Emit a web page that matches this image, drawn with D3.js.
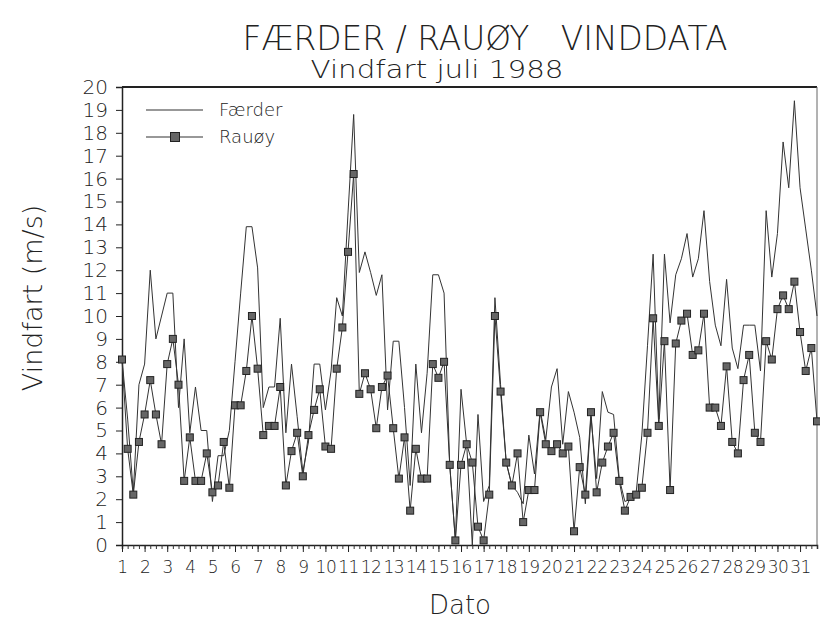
<!DOCTYPE html>
<html>
<head>
<meta charset="utf-8">
<script src="https://cdn.jsdelivr.net/npm/d3@7"></script>
<style>
  body { margin: 0; background: #fff; }
  text { font-family: "DejaVu Sans", sans-serif; font-weight: 200; fill: #222; }
</style>
</head>
<body>
<svg id="chart"></svg>
<script>
// 4 observasjoner per døgn (00, 06, 12, 18), 1.-31. juli 1988
const days = d3.range(1, 32);
const yTicks = d3.range(0, 21);

const faerder = [
  8.1, 5.5, 2.3, 7.0, 7.9, 12.0, 9.0, 10.0, 11.0, 11.0, 6.0, 9.0, 4.9, 6.9, 5.0, 5.0,
  1.9, 3.9, 3.9, 5.0, 8.0, 11.0, 13.9, 13.9, 12.1, 6.0, 6.9, 6.9, 9.9, 4.9, 7.9, 5.6,
  3.2, 4.5, 7.9, 7.9, 5.9, 7.6, 10.8, 10.0, 14.5, 18.8, 11.9, 12.8, 11.9, 10.9, 11.8, 5.9,
  8.9, 8.9, 6.0, 2.6, 7.9, 4.9, 7.5, 11.8, 11.8, 11.0, 3.5, 0.2, 6.8, 4.4, 0.0, 5.7,
  1.9, 2.6, 10.8, 7.0, 3.6, 2.6, 2.3, 1.8, 4.8, 3.1, 5.9, 4.6, 6.9, 7.7, 4.4, 6.7,
  5.8, 4.7, 1.8, 5.6, 2.9, 6.7, 5.8, 5.7, 2.9, 1.9, 2.0, 2.3, 4.8, 8.7, 12.7, 5.5,
  12.7, 9.7, 11.8, 12.5, 13.6, 11.7, 12.5, 14.6, 11.5, 9.6, 8.7, 11.6, 8.6, 7.7, 9.6, 9.6,
  9.6, 7.6, 14.6, 11.7, 13.6, 17.6, 15.6, 19.4, 15.6, 13.8, 12.0, 10.0
];

const rauoy = [
  8.1, 4.2, 2.2, 4.5, 5.7, 7.2, 5.7, 4.4, 7.9, 9.0, 7.0, 2.8, 4.7, 2.8, 2.8, 4.0,
  2.3, 2.6, 4.5, 2.5, 6.1, 6.1, 7.6, 10.0, 7.7, 4.8, 5.2, 5.2, 6.9, 2.6, 4.1, 4.9,
  3.0, 4.8, 5.9, 6.8, 4.3, 4.2, 7.7, 9.5, 12.8, 16.2, 6.6, 7.5, 6.8, 5.1, 6.9, 7.4,
  5.1, 2.9, 4.7, 1.5, 4.2, 2.9, 2.9, 7.9, 7.3, 8.0, 3.5, 0.2, 3.5, 4.4, 3.6, 0.8,
  0.2, 2.2, 10.0, 6.7, 3.6, 2.6, 4.0, 1.0, 2.4, 2.4, 5.8, 4.4, 4.1, 4.4, 4.0, 4.3,
  0.6, 3.4, 2.2, 5.8, 2.3, 3.6, 4.3, 4.9, 2.8, 1.5, 2.1, 2.2, 2.5, 4.9, 9.9, 5.2,
  8.9, 2.4, 8.8, 9.8, 10.1, 8.3, 8.5, 10.1, 6.0, 6.0, 5.2, 7.8, 4.5, 4.0, 7.2, 8.3,
  4.9, 4.5, 8.9, 8.1, 10.3, 10.9, 10.3, 11.5, 9.3, 7.6, 8.6, 5.4
];

const series = [
  { name: "Færder", values: faerder, marker: false },
  { name: "Rauøy", values: rauoy, marker: true }
];

const W = 820, H = 619;
const margin = { top: 87, right: 3, bottom: 74, left: 122 };
const width = W - margin.left - margin.right;
const height = H - margin.top - margin.bottom;

const svg = d3.select("#chart")
  .attr("width", W)
  .attr("height", H);

// tid i døgn: dag + (obs / 4)
const timeOf = function(i) { return 1 + i / 4; };

const x = d3.scaleLinear()
  .domain([1, 31.75])
  .range([margin.left, margin.left + width]);

const y = d3.scaleLinear()
  .domain([0, 20])
  .range([margin.top + height, margin.top]);

// ramme
svg.append("line")
  .attr("x1", x(1)).attr("x2", x(31.75))
  .attr("y1", y(20)).attr("y2", y(20))
  .attr("stroke", "#222").attr("stroke-width", 2);
svg.append("line")
  .attr("x1", x(31.75)).attr("x2", x(31.75))
  .attr("y1", y(20)).attr("y2", y(0))
  .attr("stroke", "#666").attr("stroke-width", 1);

// y-akse
const yAxis = svg.append("g")
  .attr("transform", "translate(" + margin.left + ",0)")
  .call(d3.axisLeft(y).tickValues(yTicks).tickSize(6).tickPadding(8).tickFormat(d3.format("d")));
yAxis.select(".domain").attr("stroke", "#222").attr("stroke-width", 1.5);
yAxis.selectAll(".tick line").attr("stroke", "#222");
yAxis.selectAll("text")
  .attr("font-size", 20)
  .attr("font-family", "DejaVu Sans, sans-serif")
  .attr("font-weight", 200)
  .attr("fill", "#222");

// x-akse, småstreker hver 6. time
const minor = d3.range(0, 124).map(timeOf).concat([31.75]);
const xMinor = svg.append("g")
  .attr("transform", "translate(0," + (margin.top + height) + ")")
  .call(d3.axisBottom(x).tickValues(minor).tickSize(4).tickFormat(""));
xMinor.select(".domain").attr("stroke", "#222").attr("stroke-width", 1.5);
xMinor.selectAll(".tick line").attr("stroke", "#333");

const xAxis = svg.append("g")
  .attr("transform", "translate(0," + (margin.top + height) + ")")
  .call(d3.axisBottom(x).tickValues(days).tickSize(7).tickPadding(9).tickFormat(d3.format("d")));
xAxis.select(".domain").remove();
xAxis.selectAll(".tick line").attr("stroke", "#222");
xAxis.selectAll("text")
  .attr("font-size", 17)
  .attr("font-family", "Roboto, sans-serif")
  .attr("font-weight", 300)
  .attr("letter-spacing", -0.5)
  .attr("fill", "#222");

// linjer
const line = d3.line()
  .x(function(d, i) { return x(timeOf(i)); })
  .y(function(d) { return y(d); });

series.forEach(function(s) {
  svg.append("path")
    .datum(s.values)
    .attr("d", line)
    .attr("fill", "none")
    .attr("stroke", "#333")
    .attr("stroke-width", 1)
    .attr("stroke-linejoin", "miter");
});

const size = 7;
svg.selectAll("rect.rauoy")
  .data(rauoy)
  .enter()
  .append("rect")
  .attr("class", "rauoy")
  .attr("x", function(d, i) { return x(timeOf(i)) - size / 2; })
  .attr("y", function(d) { return y(d) - size / 2; })
  .attr("width", size)
  .attr("height", size)
  .attr("fill", "#666")
  .attr("stroke", "#222")
  .attr("stroke-width", 1);

// forklaring
const legend = svg.append("g");
series.forEach(function(s, i) {
  const ly = 110 + i * 27;
  legend.append("line")
    .attr("x1", 146).attr("x2", 203)
    .attr("y1", ly).attr("y2", ly)
    .attr("stroke", "#333").attr("stroke-width", 1.2);
  if (s.marker) {
    legend.append("rect")
      .attr("x", 175 - size / 2 - 1).attr("y", ly - size / 2 - 1)
      .attr("width", size + 2).attr("height", size + 2)
      .attr("fill", "#666").attr("stroke", "#222");
  }
  legend.append("text")
    .attr("x", 219)
    .attr("y", ly)
    .attr("dy", "0.35em")
    .attr("font-size", 18)
    .text(s.name);
});

// titler
svg.append("text")
  .attr("x", 485).attr("y", 50)
  .attr("text-anchor", "middle")
  .attr("font-size", 34)
  .attr("textLength", 485)
  .attr("lengthAdjust", "spacingAndGlyphs")
  .style("white-space", "pre")
  .text("FÆRDER / RAUØY   VINDDATA");

svg.append("text")
  .attr("x", 437).attr("y", 78)
  .attr("text-anchor", "middle")
  .attr("font-size", 24)
  .attr("textLength", 253)
  .attr("lengthAdjust", "spacingAndGlyphs")
  .text("Vindfart juli 1988");

svg.append("text")
  .attr("transform", "translate(42,298) rotate(-90)")
  .attr("text-anchor", "middle")
  .attr("font-size", 27)
  .text("Vindfart (m/s)");

svg.append("text")
  .attr("x", 460).attr("y", 614)
  .attr("text-anchor", "middle")
  .attr("font-size", 26)
  .text("Dato");
</script>
</body>
</html>
